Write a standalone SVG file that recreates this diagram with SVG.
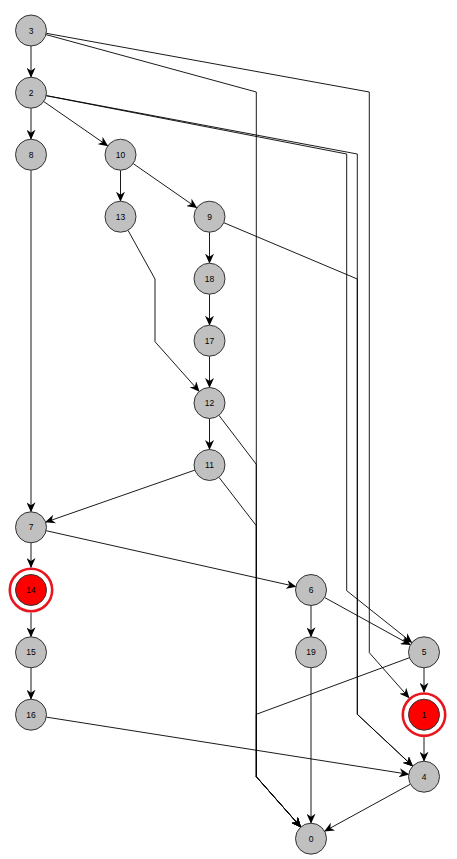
<svg xmlns="http://www.w3.org/2000/svg" width="457" height="859" viewBox="0 0 457 859">
<style>
.n circle.b{fill:#c0c0c0;stroke:#333;stroke-width:1}
.r circle.b{fill:#ff0000;stroke:#333;stroke-width:1}
.r circle.o{fill:none;stroke:#e8161e;stroke-width:2.6}
text{font-family:"Liberation Sans",Arial,sans-serif;font-size:8.5px;fill:#000;text-anchor:middle;dominant-baseline:central}
#edges path{fill:none;stroke:#000;stroke-width:0.9}
</style>
<defs>
<marker id="a" markerUnits="userSpaceOnUse" markerWidth="10" markerHeight="9" refX="9.5" refY="4.5" orient="auto" viewBox="0 0 10 9">
<path d="M0,0 L10,4.5 L0,9 L3,4.5 z" fill="#000"/>
</marker>
</defs>
<rect width="457" height="859" fill="#fff"/>
<g id="edges">
<path d="M31,46 L31,77.2" marker-end="url(#a)"/>
<path d="M46,34.6 L256.3,92 L256.3,776.7 L300.8,827.1" marker-end="url(#a)"/>
<path d="M46.3,33.3 L369.3,92 L369.3,652.7 L409.1,697.8" marker-end="url(#a)"/>
<path d="M46.2,95.7 L346.7,154 L346.7,590.7 L411.9,642.6" marker-end="url(#a)"/>
<path d="M46.2,95.6 L357.3,154 L357.3,714.3 L412.7,766.1" marker-end="url(#a)"/>
<path d="M223.8,222.7 L357.3,279 L357.3,714.3 L412.7,766.1" marker-end="url(#a)"/>
<path d="M31,108.2 L31,139.2" marker-end="url(#a)"/>
<path d="M43.7,101.5 L107.8,145.9" marker-end="url(#a)"/>
<path d="M31,170.2 L31,511.8" marker-end="url(#a)"/>
<path d="M120.5,170.2 L120.5,201.2" marker-end="url(#a)"/>
<path d="M133.2,163.6 L196.8,207.8" marker-end="url(#a)"/>
<path d="M128,230.3 L155,279 L155,341.7 L199.2,391.4" marker-end="url(#a)"/>
<path d="M209.5,232.2 L209.5,263.2" marker-end="url(#a)"/>
<path d="M209.5,294.2 L209.5,325.2" marker-end="url(#a)"/>
<path d="M209.5,356.2 L209.5,387.5" marker-end="url(#a)"/>
<path d="M209.5,418.5 L209.5,449.5" marker-end="url(#a)"/>
<path d="M218.9,415.3 L256.3,464.3 L256.3,776.7 L300.8,827.1" marker-end="url(#a)"/>
<path d="M219,477.3 L256.3,525.7 L256.3,776.7 L300.8,827.1" marker-end="url(#a)"/>
<path d="M194.9,470.1 L45.6,522.2" marker-end="url(#a)"/>
<path d="M31,542.8 L31,567.5" marker-end="url(#a)"/>
<path d="M46.1,530.7 L295.9,586.6" marker-end="url(#a)"/>
<path d="M31,612.5 L31,636.8" marker-end="url(#a)"/>
<path d="M311,605.5 L311,636.8" marker-end="url(#a)"/>
<path d="M324.6,597.5 L410.4,644.8" marker-end="url(#a)"/>
<path d="M31,667.8 L31,699.2" marker-end="url(#a)"/>
<path d="M311,667.8 L311,823.2" marker-end="url(#a)"/>
<path d="M424,667.8 L424,692.2" marker-end="url(#a)"/>
<path d="M409.5,657.7 L256.3,714.3 L256.3,776.7 L300.8,827.1" marker-end="url(#a)"/>
<path d="M46.3,717.1 L408.7,774.3" marker-end="url(#a)"/>
<path d="M424,737.2 L424,761.2" marker-end="url(#a)"/>
<path d="M410.4,784.2 L324.6,831.2" marker-end="url(#a)"/>
</g>
<g id="n3" class="n"><circle class="b" cx="31" cy="30.5" r="15.5"/><text x="31" y="30.5">3</text></g>
<g id="n2" class="n"><circle class="b" cx="31" cy="92.7" r="15.5"/><text x="31" y="92.7">2</text></g>
<g id="n8" class="n"><circle class="b" cx="31" cy="154.7" r="15.5"/><text x="31" y="154.7">8</text></g>
<g id="n10" class="n"><circle class="b" cx="120.5" cy="154.7" r="15.5"/><text x="120.5" y="154.7">10</text></g>
<g id="n13" class="n"><circle class="b" cx="120.5" cy="216.7" r="15.5"/><text x="120.5" y="216.7">13</text></g>
<g id="n9" class="n"><circle class="b" cx="209.5" cy="216.7" r="15.5"/><text x="209.5" y="216.7">9</text></g>
<g id="n18" class="n"><circle class="b" cx="209.5" cy="278.7" r="15.5"/><text x="209.5" y="278.7">18</text></g>
<g id="n17" class="n"><circle class="b" cx="209.5" cy="340.7" r="15.5"/><text x="209.5" y="340.7">17</text></g>
<g id="n12" class="n"><circle class="b" cx="209.5" cy="403" r="15.5"/><text x="209.5" y="403">12</text></g>
<g id="n11" class="n"><circle class="b" cx="209.5" cy="465" r="15.5"/><text x="209.5" y="465">11</text></g>
<g id="n7" class="n"><circle class="b" cx="31" cy="527.3" r="15.5"/><text x="31" y="527.3">7</text></g>
<g id="n14" class="r"><circle class="o" cx="31" cy="590" r="21.2"/><circle class="b" cx="31" cy="590" r="15.5"/><text x="31" y="590">14</text></g>
<g id="n6" class="n"><circle class="b" cx="311" cy="590" r="15.5"/><text x="311" y="590">6</text></g>
<g id="n15" class="n"><circle class="b" cx="31" cy="652.3" r="15.5"/><text x="31" y="652.3">15</text></g>
<g id="n19" class="n"><circle class="b" cx="311" cy="652.3" r="15.5"/><text x="311" y="652.3">19</text></g>
<g id="n5" class="n"><circle class="b" cx="424" cy="652.3" r="15.5"/><text x="424" y="652.3">5</text></g>
<g id="n16" class="n"><circle class="b" cx="31" cy="714.7" r="15.5"/><text x="31" y="714.7">16</text></g>
<g id="n1" class="r"><circle class="o" cx="424" cy="714.7" r="21.2"/><circle class="b" cx="424" cy="714.7" r="15.5"/><text x="424" y="714.7">1</text></g>
<g id="n4" class="n"><circle class="b" cx="424" cy="776.7" r="15.5"/><text x="424" y="776.7">4</text></g>
<g id="n0" class="n"><circle class="b" cx="311" cy="838.7" r="15.5"/><text x="311" y="838.7">0</text></g>
</svg>
